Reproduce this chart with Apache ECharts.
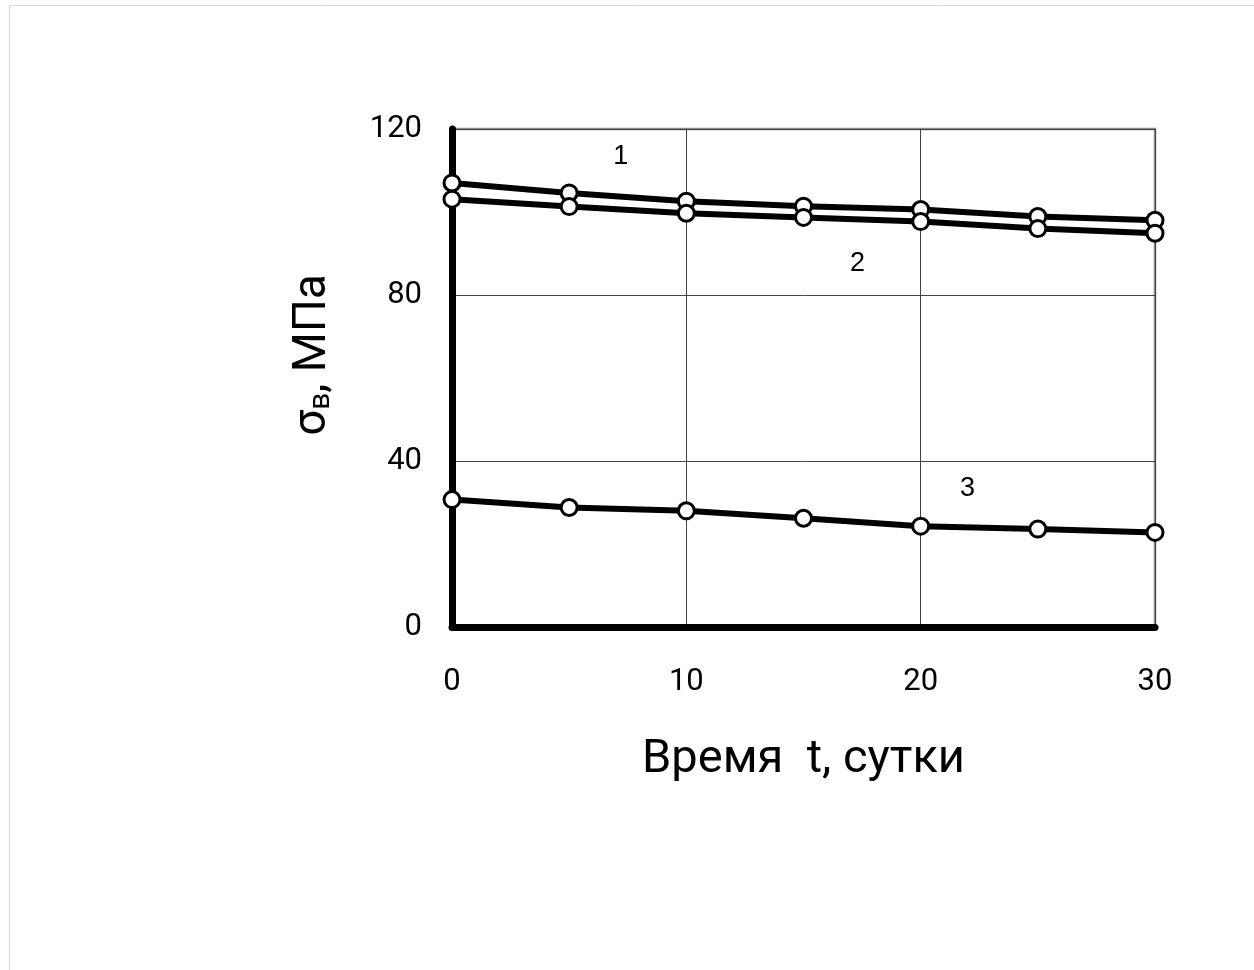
<!DOCTYPE html>
<html>
<head>
<meta charset="utf-8">
<script src="https://cdn.jsdelivr.net/npm/echarts@6/dist/echarts.min.js"></script>
<style>
html,body{margin:0;padding:0;background:#fff;}
#chart{width:1254px;height:970px;}
</style>
</head>
<body>
<div id="chart"></div>
<script>
const days = [0, 5, 10, 15, 20, 25, 30];
const curve1 = [107.0, 104.6, 102.6, 101.4, 100.6, 98.9, 98.0];
const curve2 = [103.1, 101.3, 99.7, 98.7, 97.7, 96.0, 94.9];
const curve3 = [30.7, 28.8, 28.0, 26.2, 24.3, 23.6, 22.8];
const curveLabels = ['1', '2', '3'];
const labelPos = [[7.2, 113.3], [17.3, 87.5], [22.0, 33.3]];
const xTicks = [0, 10, 20, 30];
const yTicks = [0, 40, 80, 120];

const chart = echarts.init(document.getElementById('chart'));

function pairs(vals) { return days.map((d, i) => [d, vals[i]]); }

function mkSeries(vals, idx) {
  return {
    type: 'line',
    data: pairs(vals),
    symbol: 'circle',
    symbolSize: 16,
    lineStyle: { color: '#000', width: 6 },
    itemStyle: { color: '#fff', borderColor: '#000', borderWidth: 3 },
    z: 5 + idx,
    markPoint: {
      symbol: 'circle',
      symbolSize: 0,
      data: [{ coord: labelPos[idx], value: curveLabels[idx] }],
      label: {
        show: true, position: 'inside', formatter: curveLabels[idx],
        color: '#000', fontSize: 27, fontFamily: 'Liberation Sans'
      }
    }
  };
}

chart.setOption({
  animation: false,
  backgroundColor: '#fff',
  graphic: [{
    type: 'rect', shape: { x: 9.5, y: 5.5, width: 1260, height: 980 },
    style: { fill: 'none', stroke: '#d8d8d8', lineWidth: 1 }, z: -10
  }],
  grid: { left: 452, right: 99, top: 129, bottom: 343, show: true, borderColor: '#8a8a8a', borderWidth: 2.5 },
  xAxis: {
    type: 'value', min: 0, max: 30, interval: 10,
    axisLine: { show: true, onZero: false, lineStyle: { color: '#000', width: 7 } },
    axisTick: { show: false },
    splitLine: { show: true, lineStyle: { color: '#444', width: 1 } },
    axisLabel: { margin: 40, fontSize: 31, color: '#000', fontFamily: 'Roboto',
      formatter: v => xTicks.includes(v) ? String(v) : '' },
    name: 'Время  t, сутки',
    nameLocation: 'middle', nameGap: 110,
    nameTextStyle: { fontSize: 47, color: '#000', fontFamily: 'Roboto' }
  },
  yAxis: {
    type: 'value', min: 0, max: 120, interval: 40,
    axisLine: { show: true, onZero: false, lineStyle: { color: '#000', width: 7 } },
    axisTick: { show: false },
    splitLine: { show: true, lineStyle: { color: '#444', width: 1 } },
    axisLabel: { margin: 30, fontSize: 31, color: '#000', fontFamily: 'Roboto',
      formatter: v => yTicks.includes(v) ? String(v) : '' },
    name: '{s|σ}{sub|в}, МПа',
    nameLocation: 'middle', nameGap: 116,
    nameTextStyle: {
      fontSize: 46, color: '#000', fontFamily: 'Roboto', padding: [0, 0, 0, 46],
      rich: {
        s: { fontSize: 46, fontFamily: 'Roboto', color: '#000' },
        sub: { fontSize: 30, fontFamily: 'Roboto', color: '#000', verticalAlign: 'bottom', padding: [16, 0, 0, 0] }
      }
    }
  },
  series: [mkSeries(curve1, 0), mkSeries(curve2, 1), mkSeries(curve3, 2)]
});
</script>
</body>
</html>
